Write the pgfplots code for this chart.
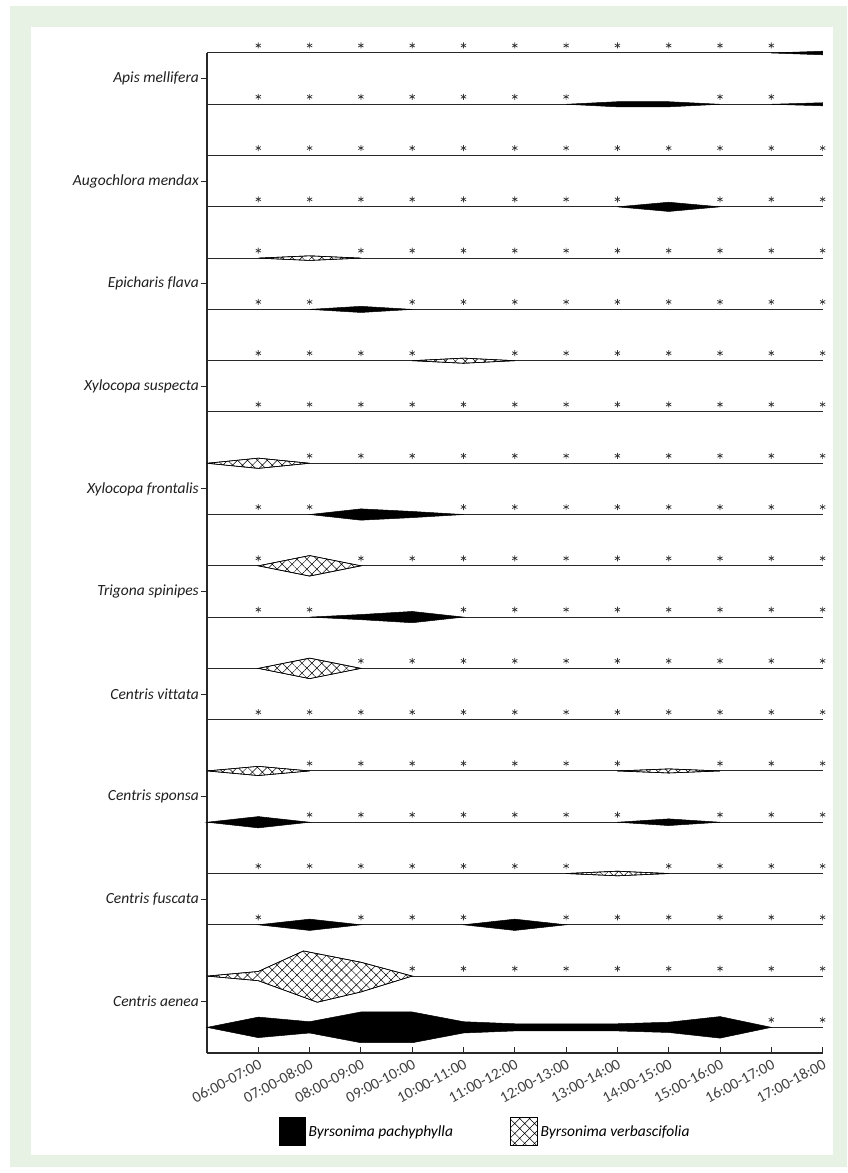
\documentclass[border=0pt]{standalone}
\usepackage{fontspec}
\setmainfont{Carlito}[Ligatures={NoCommon}]
\usepackage{pgfplots}
\pgfplotsset{compat=1.18}
\usetikzlibrary{patterns.meta}
\definecolor{bggreen}{RGB}{232,242,228}
\definecolor{linegray}{RGB}{40,40,40}
\pgfplotsset{
  pach/.style={fill=black, draw=black, line width=0.5pt, forget plot},
  verb/.style={fill=white, draw=black, line width=0.6pt, forget plot,
    postaction={pattern={Hatch[angle=45,distance=7pt,line width=0.5pt]}}},
}
\begin{document}
\begin{tikzpicture}
\fill[white] (0pt,0pt) rectangle (847pt,1173pt);
\fill[bggreen] (10pt,6pt) rectangle (847pt,1167pt);
\fill[white] (31pt,18pt) rectangle (833pt,1146pt);
\begin{axis}[
  at={(207pt,120pt)}, anchor=south west,
  scale only axis, width=615.6pt, height=1000pt,
  xmin=0, xmax=12, ymin=0, ymax=19.5,
  axis x line=bottom, axis y line=left,
  axis line style={-, draw=linegray, line width=1.1pt},
  xtick={1,2,3,4,5,6,7,8,9,10,11,12},
  xticklabels={06:00-07:00,07:00-08:00,08:00-09:00,09:00-10:00,10:00-11:00,11:00-12:00,12:00-13:00,13:00-14:00,14:00-15:00,15:00-16:00,16:00-17:00,17:00-18:00},
  ytick={1,3,5,7,9,11,13,15,17,19},
  yticklabels={{Centris aenea\hspace{24pt}},{Centris fuscata\hspace{16pt}},{Centris sponsa\hspace{20pt}},{Centris vittata\hspace{25pt}},{Trigona spinipes\hspace{32pt}},{Xylocopa frontalis\hspace{29pt}},{Xylocopa suspecta\hspace{27pt}},{Epicharis flava\hspace{30pt}},{Augochlora mendax\hspace{22pt}},{Apis mellifera}},
  xtick align=inside, ytick align=outside,
  major tick length=6pt,
  tick style={draw=linegray, line width=0.9pt},
  xticklabel style={yshift=-4pt, rotate=28, anchor=north east, inner sep=1pt,
    font=\fontsize{15.5}{18}\selectfont, text=black!75},
  yticklabel style={font=\fontsize{15.5}{18}\selectfont\itshape, text=black!88, inner sep=2pt},
  extra y ticks={0.5,1.5,2.5,3.5,4.5,5.5,6.5,7.5,8.5,9.5,10.5,11.5,12.5,13.5,14.5,15.5,16.5,17.5,18.5,19.5},
  extra y tick labels={},
  extra y tick style={grid=major, major tick length=0pt,
    major grid style={draw=linegray, line width=1pt}},
  clip=false,
  legend style={at={(axis description cs:0.117,-0.064)}, anchor=north west,
    draw=none, fill=none, legend columns=2, inner sep=0pt,
    font=\fontsize{15.5}{18}\selectfont\itshape,
    nodes={inner sep=3pt},
    /tikz/every even column/.append style={column sep=54pt}},
  legend cell align=left,
]
% ---- Byrsonima pachyphylla (black) kites ----
\addplot[pach] coordinates {(11,19.5)(12,19.535)(12,19.465)} -- cycle;
\addplot[pach] coordinates {(7,18.5)(8,18.55)(9,18.55)(10,18.5)(9,18.45)(8,18.45)} -- cycle;
\addplot[pach] coordinates {(11,18.5)(12,18.53)(12,18.47)} -- cycle;
\addplot[pach] coordinates {(8,16.5)(9,16.59)(10,16.5)(9,16.41)} -- cycle;
\addplot[pach] coordinates {(2,14.5)(3,14.56)(4,14.5)(3,14.44)} -- cycle;
\addplot[pach] coordinates {(2,10.5)(3,10.61)(4,10.56)(5,10.5)(4,10.44)(3,10.39)} -- cycle;
\addplot[pach] coordinates {(2,8.5)(3,8.55)(4,8.61)(5,8.5)(4,8.39)(3,8.45)} -- cycle;
\addplot[pach] coordinates {(0,4.5)(1,4.61)(2,4.5)(1,4.39)} -- cycle;
\addplot[pach] coordinates {(8,4.5)(9,4.565)(10,4.5)(9,4.435)} -- cycle;
\addplot[pach] coordinates {(1,2.5)(2,2.61)(3,2.5)(2,2.39)} -- cycle;
\addplot[pach] coordinates {(5,2.5)(6,2.61)(7,2.5)(6,2.39)} -- cycle;
\addplot[pach] coordinates {(0,0.5)(1,0.7)(2,0.61)(3,0.8)(4,0.8)(5,0.61)(6,0.57)(7,0.57)(8,0.57)(9,0.6)(10,0.71)(11,0.5)(10,0.29)(9,0.4)(8,0.43)(7,0.43)(6,0.43)(5,0.39)(4,0.2)(3,0.2)(2,0.39)(1,0.3)} -- cycle;
% ---- Byrsonima verbascifolia (crosshatch) kites ----
\addplot[verb] coordinates {(1,15.5)(2,15.545)(3,15.5)(2,15.455)} -- cycle;
\addplot[verb] coordinates {(4,13.5)(5,13.55)(6,13.5)(5,13.45)} -- cycle;
\addplot[verb] coordinates {(0,11.5)(1,11.6)(2,11.5)(1,11.4)} -- cycle;
\addplot[verb] coordinates {(1,9.5)(2,9.7)(3,9.5)(2,9.3)} -- cycle;
\addplot[verb] coordinates {(1,7.5)(2,7.7)(3,7.5)(2,7.3)} -- cycle;
\addplot[verb] coordinates {(0,5.5)(1,5.59)(2,5.5)(1,5.41)} -- cycle;
\addplot[verb] coordinates {(8,5.5)(9,5.54)(10,5.5)(9,5.46)} -- cycle;
\addplot[verb] coordinates {(7,3.5)(8,3.545)(9,3.5)(8,3.455)} -- cycle;
\addplot[verb] coordinates {(0,1.5)(1,1.59)(1.88,1.99)(3,1.77)(4,1.5)(3,1.19)(2.15,0.99)(1,1.41)} -- cycle;
% ---- asterisks (hours without visits) ----
\addplot[only marks, mark=asterisk, mark size=3pt, forget plot,
  mark options={yshift=7.5pt, draw=black!80, line width=0.7pt}] coordinates {
(1,19.5)(2,19.5)(3,19.5)(4,19.5)(5,19.5)(6,19.5)(7,19.5)(8,19.5)(9,19.5)(10,19.5)(11,19.5)
(1,18.5)(2,18.5)(3,18.5)(4,18.5)(5,18.5)(6,18.5)(7,18.5)(10,18.5)(11,18.5)
(1,17.5)(2,17.5)(3,17.5)(4,17.5)(5,17.5)(6,17.5)(7,17.5)(8,17.5)(9,17.5)(10,17.5)(11,17.5)(12,17.5)
(1,16.5)(2,16.5)(3,16.5)(4,16.5)(5,16.5)(6,16.5)(7,16.5)(8,16.5)(10,16.5)(11,16.5)(12,16.5)
(1,15.5)(3,15.5)(4,15.5)(5,15.5)(6,15.5)(7,15.5)(8,15.5)(9,15.5)(10,15.5)(11,15.5)(12,15.5)
(1,14.5)(2,14.5)(4,14.5)(5,14.5)(6,14.5)(7,14.5)(8,14.5)(9,14.5)(10,14.5)(11,14.5)(12,14.5)
(1,13.5)(2,13.5)(3,13.5)(4,13.5)(6,13.5)(7,13.5)(8,13.5)(9,13.5)(10,13.5)(11,13.5)(12,13.5)
(1,12.5)(2,12.5)(3,12.5)(4,12.5)(5,12.5)(6,12.5)(7,12.5)(8,12.5)(9,12.5)(10,12.5)(11,12.5)(12,12.5)
(2,11.5)(3,11.5)(4,11.5)(5,11.5)(6,11.5)(7,11.5)(8,11.5)(9,11.5)(10,11.5)(11,11.5)(12,11.5)
(1,10.5)(2,10.5)(5,10.5)(6,10.5)(7,10.5)(8,10.5)(9,10.5)(10,10.5)(11,10.5)(12,10.5)
(1,9.5)(3,9.5)(4,9.5)(5,9.5)(6,9.5)(7,9.5)(8,9.5)(9,9.5)(10,9.5)(11,9.5)(12,9.5)
(1,8.5)(2,8.5)(5,8.5)(6,8.5)(7,8.5)(8,8.5)(9,8.5)(10,8.5)(11,8.5)(12,8.5)
(3,7.5)(4,7.5)(5,7.5)(6,7.5)(7,7.5)(8,7.5)(9,7.5)(10,7.5)(11,7.5)(12,7.5)
(1,6.5)(2,6.5)(3,6.5)(4,6.5)(5,6.5)(6,6.5)(7,6.5)(8,6.5)(9,6.5)(10,6.5)(11,6.5)(12,6.5)
(2,5.5)(3,5.5)(4,5.5)(5,5.5)(6,5.5)(7,5.5)(8,5.5)(10,5.5)(11,5.5)(12,5.5)
(2,4.5)(3,4.5)(4,4.5)(5,4.5)(6,4.5)(7,4.5)(8,4.5)(10,4.5)(11,4.5)(12,4.5)
(1,3.5)(2,3.5)(3,3.5)(4,3.5)(5,3.5)(6,3.5)(7,3.5)(9,3.5)(10,3.5)(11,3.5)(12,3.5)
(1,2.5)(3,2.5)(4,2.5)(5,2.5)(7,2.5)(8,2.5)(9,2.5)(10,2.5)(11,2.5)(12,2.5)
(4,1.5)(5,1.5)(6,1.5)(7,1.5)(8,1.5)(9,1.5)(10,1.5)(11,1.5)(12,1.5)
(11,0.5)(12,0.5)
};
% ---- legend ----
\addlegendimage{legend image code/.code={\draw[fill=black,draw=black] (0pt,-14pt) rectangle (26pt,14pt);}}
\addlegendentry{Byrsonima pachyphylla}
\addlegendimage{legend image code/.code={\draw[fill=white,draw=black,line width=0.6pt,postaction={pattern={Hatch[angle=45,distance=7pt,line width=0.5pt]}}] (0pt,-14pt) rectangle (27pt,14pt);}}
\addlegendentry{Byrsonima verbascifolia}
\end{axis}
\end{tikzpicture}
\end{document}
